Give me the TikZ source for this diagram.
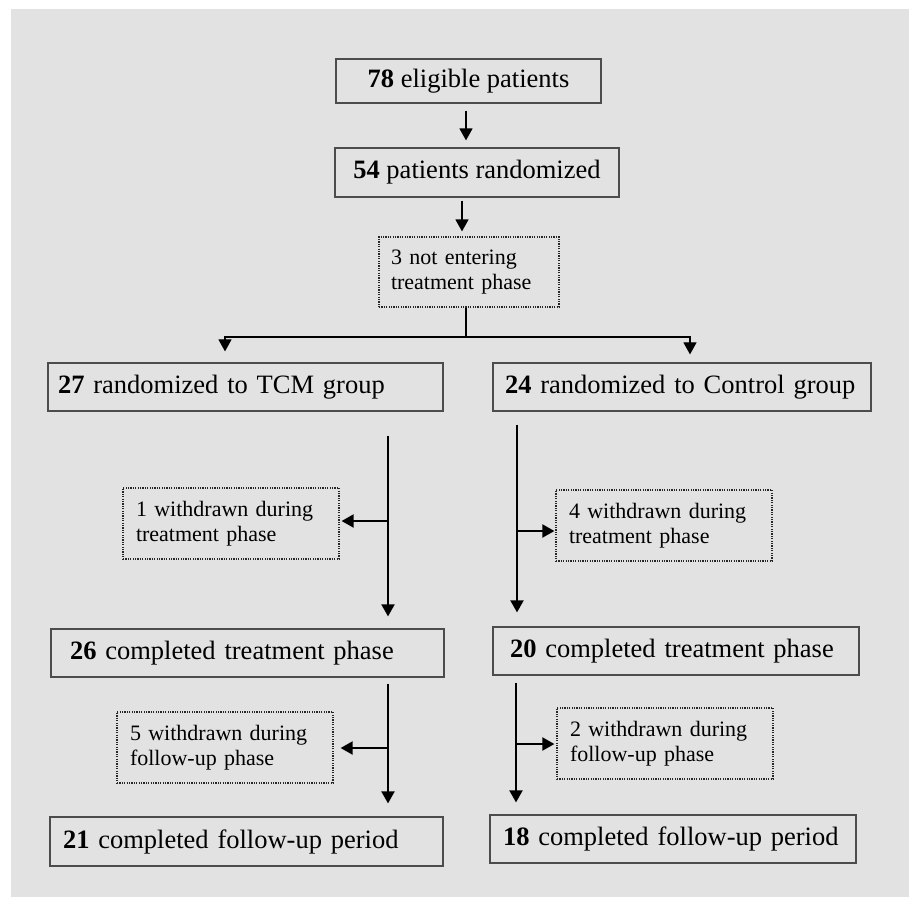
\documentclass[tikz,border=0pt]{standalone}
\usepackage{fontspec}
\setmainfont{Liberation Serif}
\usetikzlibrary{arrows.meta}

\definecolor{bggray}{HTML}{E2E2E2}

\tikzset{
    box/.style={draw=black!70, line width=.6pt, font=\fontsize{13.25}{16}\selectfont,
        align=left, inner ysep=0pt, minimum height=24pt},
    dropbox/.style={draw=black!85, dash pattern=on .6pt off .6pt, line width=.6pt,
        font=\fontsize{11}{12.5}\selectfont, align=left, inner ysep=0pt,
        text width=95pt, inner xsep=6.5pt, minimum height=35.5pt},
    flow/.style={line width=1pt, -{Triangle[length=6pt,width=6.5pt]}},
    splitline/.style={line width=.55pt}
}

\begin{document}
\begin{tikzpicture}[x=0.5pt,y=-0.5pt]
    \useasboundingbox (0,0) rectangle (911,906);
    \fill[bggray] (11,9) rectangle (909,897);

    % top of the flow
    \node[box, align=center, minimum width=132.5pt, minimum height=22pt] (elig) at (468.5,81)
        {\textbf{78} eligible patients};
    \node[box, align=center, minimum width=142pt, minimum height=24.5pt] (rand) at (477,172.5)
        {\textbf{54} patients randomized};
    \node[dropbox, text width=78pt, inner xsep=6pt, minimum height=35pt] (notent) at (469,272)
        {3 not entering\\treatment phase};

    % the two groups
    \node[box, text width=187.5pt, inner xsep=5pt] (tcm) at (245.5,387)
        {\textbf{27} randomized to TCM group};
    \node[box, text width=177pt, inner xsep=6pt] (ctl) at (682,387)
        {\textbf{24} randomized to Control group};

    \node[dropbox] (wdl1) at (231,523.5) {1 withdrawn during\\treatment phase};
    \node[dropbox] (wdr1) at (664,525.5) {4 withdrawn during\\treatment phase};

    \node[box, text width=177.5pt, inner xsep=9.5pt] (tcmtr) at (247.5,653)
        {\textbf{26} completed treatment phase};
    \node[box, text width=166pt, inner xsep=8.5pt] (ctltr) at (676,651)
        {\textbf{20} completed treatment phase};

    \node[dropbox] (wdl2) at (225,747.5) {5 withdrawn during\\follow-up phase};
    \node[dropbox] (wdr2) at (665,743.5) {2 withdrawn during\\follow-up phase};

    \node[box, text width=183.5pt, inner xsep=6.5pt, minimum height=24.5pt] (tcmfu) at (246.5,841.5)
        {\textbf{21} completed follow-up period};
    \node[box, text width=170pt, inner xsep=6.5pt] (ctlfu) at (673,839)
        {\textbf{18} completed follow-up period};

    % connectors
    \coordinate (s1) at (466,0);
    \coordinate (s2) at (462,0);
    \coordinate (split) at (466,337);
    \coordinate (lb1) at (388,521);
    \coordinate (rb1) at (517,531);
    \coordinate (lb2) at (388,748);
    \coordinate (rb2) at (516,744);

    \draw[flow, line width=.7pt, shorten <=3.5pt, shorten >=3.5pt] (elig.south -| s1) -- (rand.north -| s1);
    \draw[flow, line width=.7pt, shorten <=1.5pt, shorten >=2.5pt] (rand.south -| s2) -- (notent.north -| s2);

    \draw[splitline] (notent.south -| split) -- (split);
    \draw[splitline, -{Triangle[length=6pt,width=6.5pt]}, shorten >=5.5pt]
        (split) -| ([xshift=-10.25pt]tcm.north);
    \draw[splitline, -{Triangle[length=6pt,width=6.5pt]}, shorten >=4pt]
        (split) -| ([xshift=4pt]ctl.north);

    \draw[flow, shorten <=12pt, shorten >=6pt] (tcm.south -| lb1) -- (tcmtr.north -| lb1);
    \draw[flow, shorten >=1pt] (lb1) -- (lb1 -| wdl1.east);
    \draw[flow, shorten <=6.5pt, shorten >=7pt] (ctl.south -| rb1) -- (ctltr.north -| rb1);
    \draw[flow, shorten >=.5pt] (rb1) -- (rb1 -| wdr1.west);

    \draw[flow, shorten <=3pt, shorten >=6.5pt] (tcmtr.south -| lb2) -- (tcmfu.north -| lb2);
    \draw[flow, shorten >=3.5pt] (lb2) -- (lb2 -| wdl2.east);
    \draw[flow, shorten <=3.5pt, shorten >=6pt] (ctltr.south -| rb2) -- (ctlfu.north -| rb2);
    \draw[flow, shorten >=1pt] (rb2) -- (rb2 -| wdr2.west);
\end{tikzpicture}
\end{document}
